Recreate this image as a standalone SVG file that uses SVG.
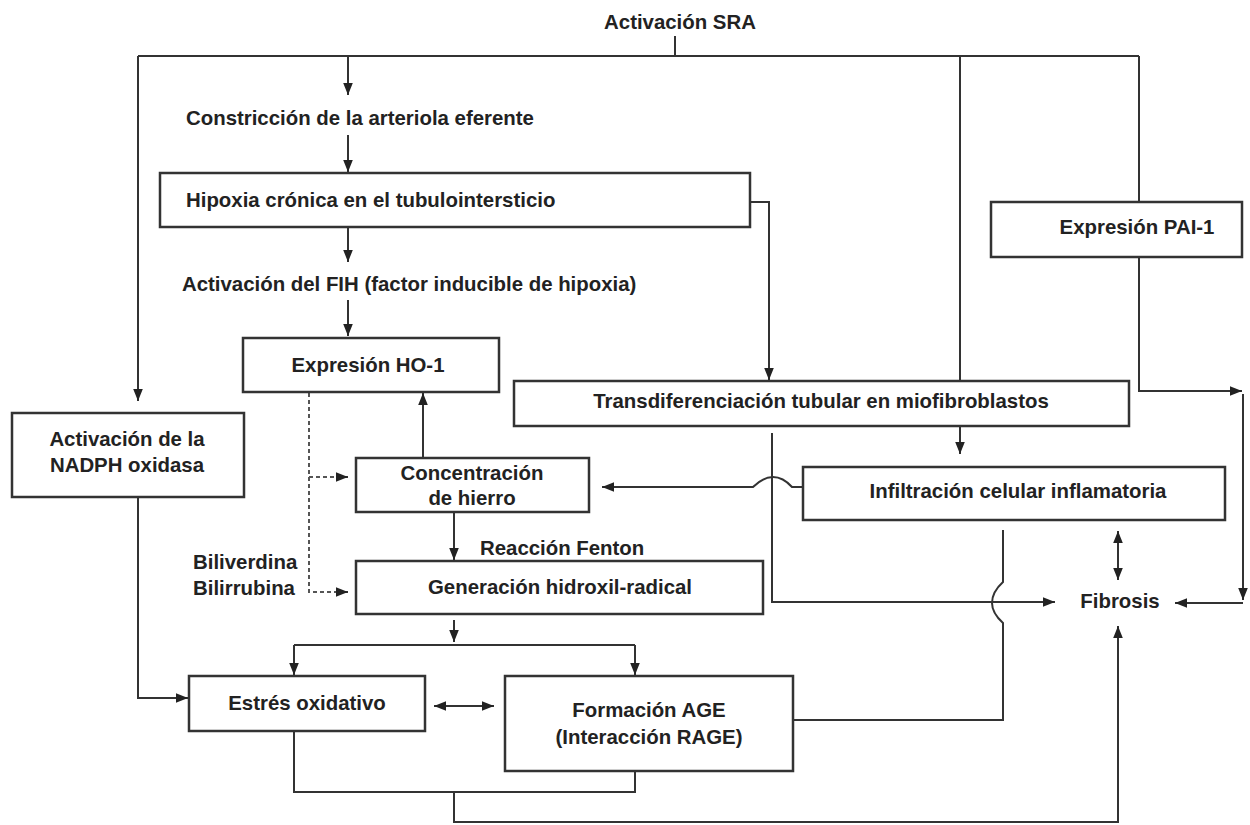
<svg xmlns="http://www.w3.org/2000/svg" width="1250" height="825" viewBox="0 0 1250 825">
<defs>
<style>
text{font-family:"Liberation Sans",Arial,sans-serif;font-weight:bold;font-size:20.4px;fill:#222}
.c{text-anchor:middle}
.box{fill:#fff;stroke:#333;stroke-width:2.5}
.ln{fill:none;stroke:#333;stroke-width:2}
.ds{fill:none;stroke:#555;stroke-width:2;stroke-dasharray:4 3}
</style>
<marker id="ah" viewBox="0 0 10 8" refX="10" refY="4" markerWidth="12" markerHeight="10" markerUnits="userSpaceOnUse" orient="auto-start-reverse">
<path d="M0,0 L10,4 L0,8 z" fill="#222"/>
</marker>
</defs>
<rect width="1250" height="825" fill="#fff"/>

<g id="connectors">
<path class="ln" d="M675,36 V56"/>
<path class="ln" d="M138,56 H1139"/>
<path class="ln" d="M138,56 V401" marker-end="url(#ah)"/>
<path class="ln" d="M348,56 V95" marker-end="url(#ah)"/>
<path class="ln" d="M348,135 V172" marker-end="url(#ah)"/>
<path class="ln" d="M750,202 H769 V380" marker-end="url(#ah)"/>
<path class="ln" d="M348,228 V262" marker-end="url(#ah)"/>
<path class="ln" d="M348,300 V336" marker-end="url(#ah)"/>
<path class="ln" d="M960,56 V381"/>
<path class="ln" d="M960,426 V454" marker-end="url(#ah)"/>
<path class="ln" d="M1139,56 V202"/>
<path class="ln" d="M1139,257 V391 H1242" marker-end="url(#ah)"/>
<path class="ln" d="M1243,394 V600" marker-end="url(#ah)"/>
<path class="ln" d="M1243,603 H1175" marker-end="url(#ah)"/>
<path class="ln" d="M423,458 V393" marker-end="url(#ah)"/>
<path class="ln" d="M803,487 H792 Q783,477 773,477 Q763,477 753,487 H602" marker-end="url(#ah)"/>
<path class="ln" d="M454,512 V560" marker-end="url(#ah)"/>
<path class="ds" d="M309,393 V592 H336"/>
<path class="ds" d="M309,477 H336"/>
<path class="ln" d="M336,477 H348" marker-end="url(#ah)"/>
<path class="ln" d="M336,592 H348" marker-end="url(#ah)"/>
<path class="ln" d="M772,433 V602 H1055" marker-end="url(#ah)"/>
<path class="ln" d="M1118,531 V580" marker-start="url(#ah)" marker-end="url(#ah)"/>
<path class="ln" d="M793,720 H1003 V623 Q992,613 992,603 Q992,592 1003,582 V530"/>
<path class="ln" d="M138,497 V698 H188" marker-end="url(#ah)"/>
<path class="ln" d="M454,620 V642" marker-end="url(#ah)"/>
<path class="ln" d="M294,645 H635"/>
<path class="ln" d="M294,645 V675" marker-end="url(#ah)"/>
<path class="ln" d="M635,645 V675" marker-end="url(#ah)"/>
<path class="ln" d="M434,706 H494" marker-start="url(#ah)" marker-end="url(#ah)"/>
<path class="ln" d="M294,731 V792 H635 V771"/>
<path class="ln" d="M454,792 V822 H1118 V626" marker-end="url(#ah)"/>
</g>

<g id="n-sra"><text class="c" x="680" y="29">Activación SRA</text></g>
<g id="n-constriccion"><text x="186" y="125">Constricción de la arteriola eferente</text></g>
<g id="n-hipoxia"><rect class="box" x="160" y="173" width="590" height="54"/><text x="186" y="207">Hipoxia crónica en el tubulointersticio</text></g>
<g id="n-fih"><text x="182" y="291">Activación del FIH (factor inducible de hipoxia)</text></g>
<g id="n-ho1"><rect class="box" x="243" y="338" width="256" height="54"/><text class="c" x="368" y="372">Expresión HO-1</text></g>
<g id="n-pai1"><rect class="box" x="991" y="202" width="251" height="55"/><text class="c" x="1137" y="234">Expresión PAI-1</text></g>
<g id="n-transdif"><rect class="box" x="514" y="381" width="615" height="45"/><text class="c" x="821" y="408">Transdiferenciación tubular en miofibroblastos</text></g>
<g id="n-nadph"><rect class="box" x="12" y="413" width="232" height="84"/><text class="c" x="127" y="446">Activación de la</text><text class="c" x="127" y="472">NADPH oxidasa</text></g>
<g id="n-hierro"><rect class="box" x="356" y="458" width="233" height="54"/><text class="c" x="472" y="480">Concentración</text><text class="c" x="472" y="505">de hierro</text></g>
<g id="n-infiltracion"><rect class="box" x="803" y="467" width="422" height="53"/><text class="c" x="1018" y="498">Infiltración celular inflamatoria</text></g>
<g id="n-fenton"><text x="480" y="555">Reacción Fenton</text></g>
<g id="n-bili"><text x="193" y="569">Biliverdina</text><text x="193" y="595">Bilirrubina</text></g>
<g id="n-hidroxil"><rect class="box" x="356" y="561" width="407" height="53"/><text class="c" x="560" y="594">Generación hidroxil-radical</text></g>
<g id="n-fibrosis"><text class="c" x="1120" y="608">Fibrosis</text></g>
<g id="n-estres"><rect class="box" x="189" y="676" width="236" height="55"/><text class="c" x="307" y="710">Estrés oxidativo</text></g>
<g id="n-age"><rect class="box" x="505" y="676" width="288" height="95"/><text class="c" x="649" y="717">Formación AGE</text><text class="c" x="649" y="744">(Interacción RAGE)</text></g>
</svg>
